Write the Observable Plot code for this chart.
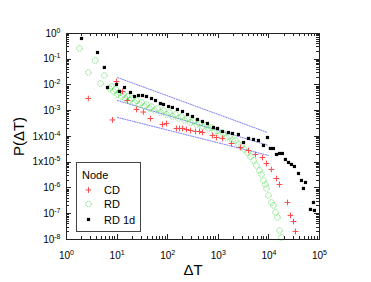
<!DOCTYPE html>
<html><head><meta charset="utf-8">
<script src="https://cdn.jsdelivr.net/npm/d3@7"></script>
<script src="https://cdn.jsdelivr.net/npm/@observablehq/plot@0.6"></script>
<style>
html,body{margin:0;padding:0;background:#fff;}
#chart{width:371px;height:282px;}
</style></head><body><div id="chart"></div>
<script>
// CD (red crosses)
const cdT = [2.7, 8.1, 9.7, 12.8, 16, 24.2, 33, 45.7, 78.9, 94.6, 149, 171, 196, 235, 282, 354, 425, 487, 767, 920, 1210, 1820, 2740, 3950, 5430, 7460, 8950, 11200, 14100, 16200, 23300, 26700, 30600, 33500];
const cdP = [0.00299, 4.4e-4, 0.0137, 0.0056, 0.0025, 0.00112, 8.9e-4, 5.0e-4, 2.92e-4, 3.2e-4, 2.05e-4, 2.05e-4, 2.05e-4, 1.87e-4, 1.71e-4, 1.57e-4, 1.57e-4, 1.43e-4, 1.09e-4, 9.15e-5, 8.4e-5, 5.35e-5, 3.74e-5, 2.86e-5, 2.0e-5, 1.53e-5, 8.95e-6, 5.24e-6, 2.34e-6, 1.37e-6, 2.74e-7, 8.6e-8, 5.0e-8, 2.05e-8];
// RD (green open circles)
const rdT = [1.8, 2.7, 3.7, 4.7, 5.6, 7.1, 7.7, 8.5, 9.3, 10.2, 11.1, 12.2, 13.4, 14.7, 16.0, 17.6, 19.2, 22.1, 24.2, 27.7, 30.3, 34.8, 38.1, 43.6, 47.8, 54.8, 62.8, 72, 82.6, 94.6, 108, 124, 143, 163, 187, 215, 246, 282, 323, 371, 425, 487, 558, 640, 733, 840, 963, 1100, 1260, 1450, 1660, 1910, 2180, 2500, 2870, 3290, 3770, 4330, 4960, 5680, 6510, 7130, 7820, 8550, 8950, 9800, 11200, 12300, 13500, 14800, 16200, 17700];
const rdP = [0.262, 0.0306, 0.0895, 0.0114, 0.0234, 0.0073, 0.00875, 0.0056, 0.0067, 0.00428, 0.00512, 0.00358, 0.00428, 0.00299, 0.00358, 0.0025, 0.00299, 0.00209, 0.0025, 0.00175, 0.00209, 0.00146, 0.00175, 0.00122, 0.00146, 0.00102, 0.00122, 8.55e-4, 0.00102, 7.16e-4, 8.55e-4, 5.98e-4, 7.16e-4, 5.0e-4, 5.98e-4, 4.19e-4, 5.0e-4, 3.5e-4, 3.83e-4, 2.92e-4, 3.2e-4, 2.45e-4, 2.68e-4, 2.05e-4, 2.24e-4, 1.57e-4, 1.71e-4, 1.2e-4, 1.31e-4, 9.15e-5, 1.0e-4, 7.0e-5, 7.0e-5, 4.9e-5, 4.48e-5, 3.13e-5, 2.39e-5, 1.67e-5, 1.17e-5, 7.5e-6, 4.8e-6, 3.35e-6, 1.96e-6, 1.37e-6, 9.6e-7, 5.1e-7, 2.74e-7, 2.1e-7, 1.12e-7, 7.2e-8, 2.24e-8, 1.2e-8];
// RD 1d (black squares)
const rd1dT = [1.98, 4.1, 5.6, 6.46, 9.73, 11.1, 14.0, 18.4, 22.1, 26.5, 31.8, 38.1, 47.8, 57.4, 72, 82.6, 104, 124, 156, 196, 246, 309, 388, 487, 611, 803, 963, 1210, 1590, 1910, 2500, 3150, 3950, 4960, 6220, 7820, 9380, 10700, 12300, 14100, 16200, 18500, 21200, 24400, 27900, 32000, 38400, 44000, 48200, 52800, 66300, 76000, 79400];
const rd1dP = [0.64, 0.183, 0.0479, 0.008, 0.0105, 0.0056, 0.008, 0.00512, 0.00358, 0.00391, 0.00391, 0.00358, 0.00299, 0.0025, 0.00191, 0.00175, 0.00146, 0.00134, 0.00112, 9.35e-4, 7.16e-4, 5.98e-4, 4.58e-4, 3.83e-4, 3.2e-4, 2.24e-4, 2.05e-4, 1.57e-4, 1.43e-4, 1.31e-4, 1.2e-4, 5.85e-5, 8.4e-5, 7.66e-5, 7.0e-5, 4.48e-5, 9.15e-5, 3.43e-5, 3.43e-5, 2.0e-5, 2.19e-5, 2.19e-5, 1.28e-5, 9.8e-6, 8.2e-6, 6.85e-6, 3.66e-6, 1.96e-6, 9.6e-7, 1.64e-6, 1.47e-7, 2.74e-7, 1.34e-7];
// dotted guide lines (endpoints)
const upperLineT = [10.2, 9400], upperLineP = [0.0195, 1.43e-4];
const middleLineT = [10.2, 9800], middleLineP = [0.0025, 4.5e-5];
const lowerLineT = [10.2, 9800], lowerLineP = [5.5e-4, 1.83e-5];
// axes
const xTicks = [1, 10, 100, 1000, 1e4, 1e5];
const xTickLabels = ["10^0", "10^1", "10^2", "10^3", "10^4", "10^5"];
const yTicks = [1, 1e-1, 1e-2, 1e-3, 1e-4, 1e-5, 1e-6, 1e-7, 1e-8];
const yTickLabels = ["10^0", "10^-1", "10^-2", "10^-3", "1x10^-4", "1x10^-5", "10^-6", "10^-7", "10^-8"];
const xTitle = "ΔT", yTitle = "P(ΔT)";
const legendTitle = "Node";
const seriesNames = ["CD", "RD", "RD 1d"];
const seriesColors = ["#ff4a4a", "#5ddd5d", "#000000"];

const zip = (T, P) => T.map((t, i) => ({t, p: P[i]}));
const cd = zip(cdT, cdP), rd = zip(rdT, rdP), rd1d = zip(rd1dT, rd1dP);
const lines = [zip(upperLineT, upperLineP), zip(middleLineT, middleLineP), zip(lowerLineT, lowerLineP)];

const plot = Plot.plot({
  width: 371, height: 282,
  marginLeft: 66, marginRight: 52, marginTop: 33, marginBottom: 43,
  style: {fontFamily: "'Liberation Sans', Arial, sans-serif", fontSize: "10px", background: "#fff", color: "#000", overflow: "visible"},
  x: {type: "log", domain: [1, 1e5]},
  y: {type: "log", domain: [1e-8, 1]},
  marks: [
    ...lines.map(L => Plot.line(L, {x: "t", y: "p", stroke: "#6a6af0", strokeWidth: 1, strokeDasharray: "1.2,1.3", strokeOpacity: 0.85})),
    Plot.dot(rd, {x: "t", y: "p", symbol: "circle", r: 2.8, stroke: seriesColors[1], strokeWidth: 0.8, fill: "none", strokeDasharray: "1.5,0.8"}),
    Plot.dot(cd, {x: "t", y: "p", symbol: "plus", r: 2, stroke: seriesColors[0], strokeWidth: 1}),
    Plot.dot(rd1d, {x: "t", y: "p", symbol: "square", r: 1.8, fill: seriesColors[2], stroke: "none"}),
    Plot.axisX(xTicks, {anchor: "bottom", tickSize: 0, tickPadding: 12, tickFormat: d => xTickLabels[xTicks.indexOf(d)], label: null}),
    Plot.axisY(yTicks, {anchor: "left", tickSize: 0, tickPadding: 6, tickFormat: d => yTickLabels[yTicks.indexOf(d)], label: null}),
    Plot.frame({stroke: "#222"}),
    Plot.text([yTitle], {frameAnchor: "left", dx: -47, rotate: -90, fontSize: 15, textAnchor: "middle", lineAnchor: "middle"}),
    Plot.text([xTitle], {frameAnchor: "bottom", dy: 31, fontSize: 15, textAnchor: "middle", lineAnchor: "middle"})
  ]
});
document.getElementById("chart").appendChild(plot);

const ns = "http://www.w3.org/2000/svg";
// superscripts in tick labels
plot.querySelectorAll('g[aria-label$="tick label"] text').forEach(t => {
  const s = t.textContent;
  const parts = s.split("^");
  if (parts.length < 2) return;
  t.textContent = "";
  const b = document.createElementNS(ns, "tspan"); b.textContent = parts[0]; t.appendChild(b);
  const e = document.createElementNS(ns, "tspan"); e.textContent = parts[1];
  e.setAttribute("dy", "-4"); e.setAttribute("font-size", "7"); t.appendChild(e);
});

// inward ticks on all four sides, positioned with Plot's scales
const sx = plot.scale("x"), sy = plot.scale("y");
const X0 = 66, X1 = 319, Y0 = 33, Y1 = 239;
const tg = d3.select(plot).append("g").attr("stroke", "#222").attr("stroke-width", 1).attr("fill", "none");
function addTick(x1, y1, x2, y2) { tg.append("line").attr("x1", x1).attr("y1", y1).attr("x2", x2).attr("y2", y2); }
for (let k = 0; k <= 5; k++) {
  for (let m = 1; m <= 9; m++) {
    const v = m * Math.pow(10, k);
    if (v > 1e5) break;
    const px = Math.round(sx.apply(v)) + 0.5;
    const len = m === 1 ? 5 : 3;
    addTick(px, Y1, px, Y1 - len);
    addTick(px, Y0, px, Y0 + len);
  }
}
for (let k = -8; k <= 0; k++) {
  for (let m = 1; m <= 9; m++) {
    const v = m * Math.pow(10, k);
    if (v > 1) break;
    const py = Math.round(sy.apply(v)) + 0.5;
    const len = m === 1 ? 5 : 3;
    addTick(X0, py, X0 + len, py);
    addTick(X1, py, X1 - len, py);
  }
}

// legend box
const lg = d3.select(plot).append("g").attr("font-family", "'Liberation Sans', Arial, sans-serif").attr("font-size", 11).attr("text-anchor", "start");
lg.append("rect").attr("x", 76.5).attr("y", 162.5).attr("width", 64).attr("height", 69).attr("fill", "#fff").attr("stroke", "#444").attr("stroke-width", 1);
lg.append("text").attr("x", 82).attr("y", 178.5).attr("text-anchor", "start").attr("fill", "#000").text(legendTitle);
const rowsY = [190, 204, 219.5];
const syms = [d3.symbolPlus, d3.symbolCircle, d3.symbolSquare];
const sizes = [Math.PI * 4, Math.PI * 2.8 * 2.8, Math.PI * 1.8 * 1.8];
seriesNames.forEach((name, i) => {
  const p = lg.append("path").attr("transform", `translate(88.5,${rowsY[i]})`).attr("d", d3.symbol(syms[i], sizes[i])());
  if (i === 0) p.attr("fill", "none").attr("stroke", seriesColors[0]).attr("stroke-width", 1);
  if (i === 1) p.attr("fill", "none").attr("stroke", seriesColors[1]).attr("stroke-width", 0.8).attr("stroke-dasharray", "1.5,0.8");
  if (i === 2) p.attr("fill", seriesColors[2]);
  lg.append("text").attr("x", 104).attr("y", rowsY[i] + 4).attr("text-anchor", "start").attr("fill", "#000").text(name);
});
</script>
</body></html>
